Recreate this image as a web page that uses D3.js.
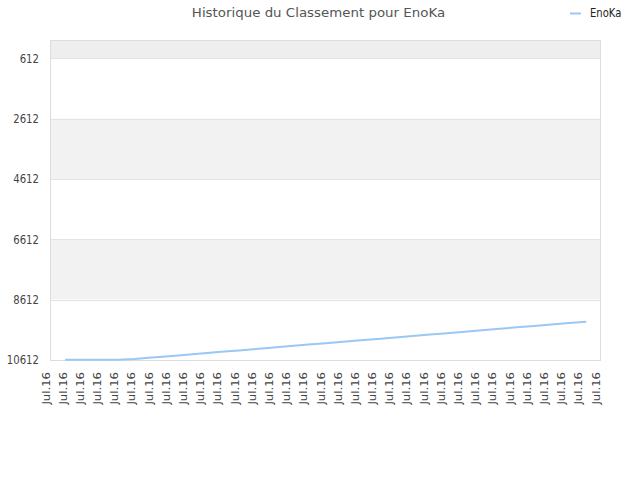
<!DOCTYPE html>
<html>
<head>
<meta charset="utf-8">
<script src="https://cdn.jsdelivr.net/npm/d3@7"></script>
<style>
  body { margin: 0; background: #fff; }
  text { font-family: "DejaVu Sans", sans-serif; }
</style>
</head>
<body>
<div id="chart"></div>
<script>
const title = "Historique du Classement pour EnoKa";
const seriesName = "EnoKa";
// 33 tick labels along the x axis
const tickLabels = ["Jul.16","Jul.16","Jul.16","Jul.16","Jul.16","Jul.16","Jul.16","Jul.16","Jul.16","Jul.16","Jul.16",
  "Jul.16","Jul.16","Jul.16","Jul.16","Jul.16","Jul.16","Jul.16","Jul.16","Jul.16","Jul.16","Jul.16",
  "Jul.16","Jul.16","Jul.16","Jul.16","Jul.16","Jul.16","Jul.16","Jul.16","Jul.16","Jul.16","Jul.16"];
const yTicks = [612, 2612, 4612, 6612, 8612, 10612];
// rank values, one per point
const ranks = [10600, 10600, 10600, 10600, 10579, 10531, 10484, 10436, 10388, 10341, 10293,
  10245, 10198, 10150, 10102, 10055, 10007, 9959, 9912, 9864, 9816, 9769,
  9721, 9673, 9626, 9578, 9530, 9483, 9435, 9387, 9340];

const width = 640, height = 480;
const margin = {top: 40, right: 40, bottom: 120, left: 50};

const svg = d3.select("#chart").append("svg")
  .attr("width", width)
  .attr("height", height);

// tick positions
const x = d3.scaleLinear()
  .domain([0, tickLabels.length - 1])
  .range([margin.left, width - margin.right]);

// points sit a little off the ticks (time axis)
const xPts = d3.scaleLinear()
  .domain([0, ranks.length - 1])
  .range([x(0.88), x(31.2)]);

const y = d3.scaleLinear()
  .domain([1, 10612])
  .range([margin.top, height - margin.bottom]);

// alternating bands
const bandEdges = [1].concat(yTicks);
for(let i = 0; i < bandEdges.length - 1; i++) {
  let fill = i === 0 ? "#eeeeee" : (i % 2 === 0 ? "#f2f2f2" : "#ffffff");
  svg.append("rect")
    .attr("x", margin.left)
    .attr("y", y(bandEdges[i]))
    .attr("width", width - margin.left - margin.right)
    .attr("height", y(bandEdges[i + 1]) - y(bandEdges[i]))
    .attr("fill", fill);
}

// grid lines
svg.selectAll(".grid")
  .data(yTicks)
  .enter().append("line")
  .attr("x1", margin.left)
  .attr("x2", width - margin.right)
  .attr("y1", d => Math.round(y(d)) + 0.5)
  .attr("y2", d => Math.round(y(d)) + 0.5)
  .attr("stroke", "#e3e3e3");

// frame
svg.append("rect")
  .attr("x", margin.left + 0.5)
  .attr("y", margin.top + 0.5)
  .attr("width", width - margin.left - margin.right)
  .attr("height", height - margin.top - margin.bottom)
  .attr("fill", "none")
  .attr("stroke", "#dddddd");

// y labels
svg.selectAll(".ylab")
  .data(yTicks)
  .enter().append("text")
  .attr("transform", d => "translate(" + (margin.left - 11) + "," + y(d) + ") scale(0.88,1)")
  .attr("dy", "0.36em")
  .attr("text-anchor", "end")
  .attr("font-size", 11.5)
  .attr("fill", "#444")
  .text(d => d);

// x labels
svg.selectAll(".xlab")
  .data(tickLabels)
  .enter().append("text")
  .attr("transform", (d, i) => "translate(" + (x(i) - 0.5) + "," + (height - margin.bottom + 12) + ") rotate(-90) scale(1.06,0.9)")
  .attr("text-anchor", "end")
  .attr("font-size", 11)
  .attr("fill", "#444")
  .text(d => d);

// the line
const line = d3.line()
  .x((d, i) => xPts(i))
  .y(d => y(d));

svg.append("path")
  .datum(ranks)
  .attr("d", line)
  .attr("fill", "none")
  .attr("stroke", "#99c8f5")
  .attr("stroke-width", 2);

// title
svg.append("text")
  .attr("transform", "translate(318.5,16.5) scale(1.07,1)")
  .attr("text-anchor", "middle")
  .attr("font-size", 12.5)
  .attr("fill", "#555")
  .text(title);

// legend
svg.append("line")
  .attr("x1", 570).attr("x2", 581)
  .attr("y1", 13.5).attr("y2", 13.5)
  .attr("stroke", "#99c8f5")
  .attr("stroke-width", 2);

svg.append("text")
  .attr("transform", "translate(590,16.5) scale(0.87,1)")
  .attr("font-size", 11.5)
  .attr("fill", "#222")
  .text(seriesName);
</script>
</body>
</html>
